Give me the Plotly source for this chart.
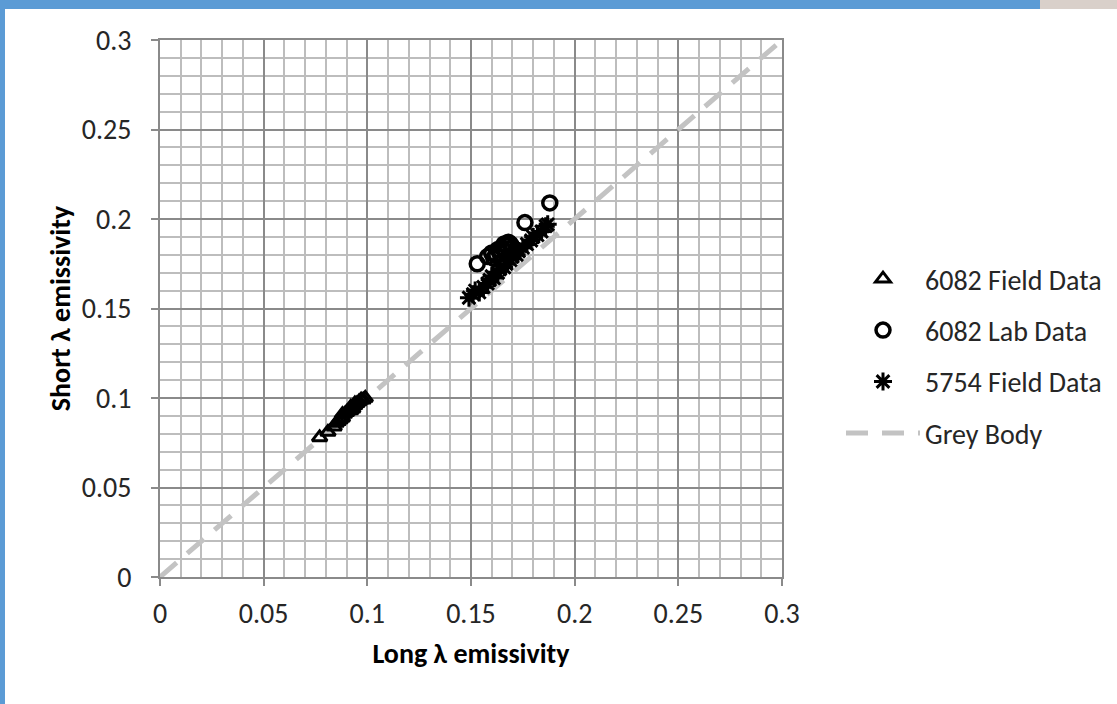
import plotly.graph_objects as go

# 6082 Field Data (triangles)
f6082_x = [0.077, 0.081, 0.084, 0.085, 0.086, 0.087, 0.088, 0.089, 0.090, 0.088, 0.091, 0.092,
           0.093, 0.092, 0.094, 0.095, 0.096, 0.094, 0.097, 0.098, 0.099]
f6082_y = [0.078, 0.081, 0.084, 0.086, 0.087, 0.088, 0.089, 0.091, 0.092, 0.091, 0.093, 0.093,
           0.094, 0.095, 0.096, 0.097, 0.098, 0.097, 0.099, 0.099, 0.100]

# 6082 Lab Data (circles)
l6082_x = [0.153, 0.158, 0.160, 0.161, 0.162, 0.163, 0.164, 0.165, 0.166, 0.167, 0.168, 0.169,
           0.170, 0.176, 0.188]
l6082_y = [0.175, 0.179, 0.181, 0.178, 0.180, 0.183, 0.181, 0.184, 0.186, 0.185, 0.187, 0.186,
           0.184, 0.198, 0.209]

# 5754 Field Data (asterisks)
f5754_x = [0.149, 0.151, 0.152, 0.154, 0.156, 0.158, 0.159, 0.160, 0.161, 0.163, 0.164, 0.166,
           0.167, 0.169, 0.170, 0.172, 0.173, 0.175, 0.177, 0.179, 0.180, 0.182, 0.184, 0.186, 0.187]
f5754_y = [0.156, 0.158, 0.160, 0.159, 0.162, 0.164, 0.166, 0.168, 0.167, 0.170, 0.172, 0.173,
           0.175, 0.177, 0.179, 0.180, 0.182, 0.184, 0.186, 0.188, 0.190, 0.191, 0.193, 0.196, 0.197]

# Grey body reference line
grey_x = [0, 0.3]
grey_y = [0, 0.3]

tick_vals = [0, 0.05, 0.1, 0.15, 0.2, 0.25, 0.3]
tick_text = ["0", "0.05", "0.1", "0.15", "0.2", "0.25", "0.3"]

FONT = "Carlito, Calibri, Lato, sans-serif"
TXT = "#262626"

fig = go.Figure()
fig.add_trace(go.Scatter(x=grey_x, y=grey_y, mode="lines", name="Grey Body",
                         line=dict(color="#c3c3c3", width=5, dash="22px,14px"),
                         legendgroup="g4", legendrank=4))
fig.add_trace(go.Scatter(x=f6082_x, y=f6082_y, mode="markers", name="6082 Field Data",
                         marker=dict(symbol="triangle-up-open", size=13, color="black",
                                     line=dict(width=3, color="black")),
                         legendgroup="g1", legendrank=1))
fig.add_trace(go.Scatter(x=l6082_x, y=l6082_y, mode="markers", name="6082 Lab Data",
                         marker=dict(symbol="circle-open", size=14, color="black",
                                     line=dict(width=3.5, color="black")),
                         legendgroup="g2", legendrank=2))
fig.add_trace(go.Scatter(x=f5754_x, y=f5754_y, mode="markers", name="5754 Field Data",
                         marker=dict(symbol="asterisk-open", size=15, color="black",
                                     line=dict(width=3, color="black")),
                         legendgroup="g3", legendrank=3))

axis_common = dict(
    range=[0, 0.3], tickvals=tick_vals, ticktext=tick_text,
    showgrid=True, gridcolor="#8a8a8a", gridwidth=2,
    minor=dict(dtick=0.01, tick0=0, showgrid=True, gridcolor="#bdbdbd", gridwidth=2),
    showline=True, linecolor="#8a8a8a", linewidth=2, mirror=True,
    ticks="outside", ticklen=7, tickcolor="#8a8a8a", tickwidth=2,
    zeroline=False, tickfont=dict(family=FONT, size=28, color=TXT),
)

fig.update_xaxes(**axis_common,
                 title=dict(text="<b>Long λ emissivity</b>", standoff=14,
                            font=dict(family=FONT, size=28, color="black")),
                 ticklabelstandoff=3)
fig.update_yaxes(**axis_common,
                 title=dict(text="<b>Short λ emissivity</b>", standoff=3,
                            font=dict(family=FONT, size=28, color="black")),
                 ticklabelstandoff=14)

W, H = 1117, 704
L, R, T, B = 160, 335, 40, 127
pw, ph = W - L - R, H - T - B

def px_to_paper_x(px):
    return (px - L) / pw

def py_to_paper_y(py):
    return 1 - (py - T) / ph

shapes = [
    dict(type="rect", xref="paper", yref="paper", layer="above",
         x0=px_to_paper_x(0), x1=px_to_paper_x(1040), y0=py_to_paper_y(9), y1=py_to_paper_y(0),
         fillcolor="#5b9bd5", line=dict(width=0)),
    dict(type="rect", xref="paper", yref="paper", layer="above",
         x0=px_to_paper_x(1040), x1=px_to_paper_x(1117), y0=py_to_paper_y(9), y1=py_to_paper_y(0),
         fillcolor="#d9d0ca", line=dict(width=0)),
    dict(type="rect", xref="paper", yref="paper", layer="above",
         x0=px_to_paper_x(0), x1=px_to_paper_x(5), y0=py_to_paper_y(704), y1=py_to_paper_y(0),
         fillcolor="#5b9bd5", line=dict(width=0)),
]

fig.update_layout(
    width=W, height=H,
    margin=dict(l=L, r=R, t=T, b=B, autoexpand=False),
    paper_bgcolor="white", plot_bgcolor="white",
    font=dict(family=FONT, size=28, color=TXT),
    showlegend=True,
    legend=dict(x=px_to_paper_x(841), y=py_to_paper_y(254), xanchor="left", yanchor="top",
                font=dict(family=FONT, size=28, color=TXT),
                tracegroupgap=12, itemwidth=74, bgcolor="rgba(0,0,0,0)"),
    shapes=shapes,
)

fig.write_html("out.html", config={"displayModeBar": False},
               post_script="document.body.style.margin='0px';document.body.style.overflow='hidden';")
